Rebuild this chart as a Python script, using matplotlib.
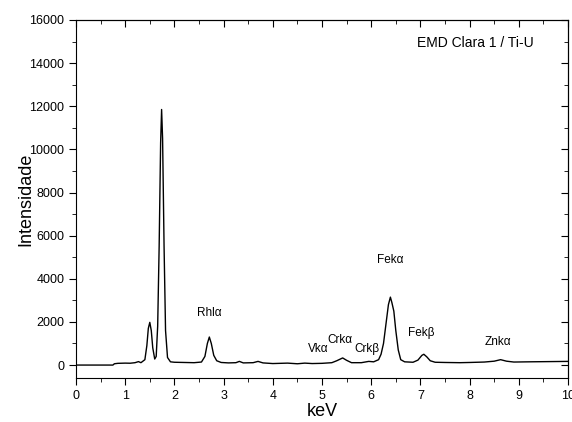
import numpy as np
import matplotlib
matplotlib.use("Agg")
import matplotlib.pyplot as plt
from matplotlib.ticker import MultipleLocator

plt.rcParams['font.family'] = ['Liberation Sans', 'DejaVu Sans']

# espectro (keV, intensidad)
kev = [0.0, 0.75, 0.78, 0.85, 1.0, 1.1, 1.2, 1.27, 1.32, 1.40, 1.44, 1.47, 1.50, 1.53,
       1.56, 1.60, 1.63, 1.66, 1.69, 1.72, 1.74, 1.76, 1.79, 1.82, 1.86, 1.92, 2.0,
       2.2, 2.4, 2.55, 2.62, 2.67, 2.71, 2.75, 2.80, 2.86, 2.95, 3.1, 3.25, 3.32, 3.4,
       3.6, 3.7, 3.8, 4.0, 4.3, 4.5, 4.65, 4.8, 5.0, 5.2, 5.3, 5.42, 5.5, 5.6, 5.8,
       5.95, 6.05, 6.15, 6.20, 6.25, 6.30, 6.35, 6.39, 6.42, 6.46, 6.50, 6.55, 6.60,
       6.68, 6.85, 6.95, 7.03, 7.07, 7.13, 7.2, 7.3, 7.5, 7.8, 8.0, 8.3, 8.5, 8.63,
       8.75, 8.9, 9.2, 9.6, 10.0]
intensidad = [0, 0, 60, 80, 90, 85, 110, 160, 110, 250, 900, 1700, 1980, 1600,
              800, 280, 400, 1800, 5500, 10300, 11850, 10500, 5500, 1600, 350, 150, 130,
              120, 110, 140, 400, 1000, 1300, 1000, 450, 200, 120, 100, 110, 170, 100,
              110, 170, 100, 70, 90, 60, 90, 70, 80, 110, 200, 330, 220, 110, 110,
              170, 150, 250, 500, 1000, 1900, 2800, 3150, 2900, 2500, 1600, 700, 250,
              150, 130, 230, 450, 500, 380, 200, 130, 120, 110, 120, 140, 180, 250,
              180, 140, 150, 160, 170]

etiquetas = ["Rhlα", "Vkα", "Crkα", "Crkβ", "Fekα", "Fekβ", "Znkα"]
etiq_x = [2.70, 4.92, 5.37, 5.92, 6.38, 7.01, 8.58]
etiq_y = [2400, 750, 1160, 750, 4870, 1480, 1070]

fig = plt.figure(figsize=(5.72, 4.22), dpi=100)
ax = fig.add_axes([76/572, 44/422, 492/572, 358/422])

ax.plot(kev, intensidad, color="black", lw=1.0)

for t, x, y in zip(etiquetas, etiq_x, etiq_y):
    ax.text(x, y, t, ha="center", va="center", fontsize=8.5)
ax.text(0.93, 0.955, "EMD Clara 1 / Ti-U", transform=ax.transAxes,
        ha="right", va="top", fontsize=10)

ax.set_xlim(0, 10)
ax.set_ylim(-600, 16000)
ax.xaxis.set_major_locator(MultipleLocator(1))
ax.xaxis.set_minor_locator(MultipleLocator(0.5))
ax.yaxis.set_major_locator(MultipleLocator(2000))
ax.yaxis.set_minor_locator(MultipleLocator(1000))
ax.tick_params(which="both", direction="out", top=False, right=False, labelsize=9)
ax.tick_params(which="major", length=5)
ax.tick_params(which="minor", length=3)

sec_x = ax.secondary_xaxis("top")
sec_x.xaxis.set_major_locator(MultipleLocator(1))
sec_x.xaxis.set_minor_locator(MultipleLocator(0.5))
sec_x.tick_params(which="both", direction="in", labeltop=False)
sec_x.tick_params(which="major", length=5)
sec_x.tick_params(which="minor", length=3)
sec_y = ax.secondary_yaxis("right")
sec_y.yaxis.set_major_locator(MultipleLocator(2000))
sec_y.yaxis.set_minor_locator(MultipleLocator(1000))
sec_y.tick_params(which="both", direction="in", labelright=False)
sec_y.tick_params(which="major", length=5)
sec_y.tick_params(which="minor", length=3)

ax.set_xlabel("keV", fontsize=13, labelpad=1)
ax.set_ylabel("Intensidade", fontsize=13, labelpad=-4)

fig.savefig("out.png", dpi=100)
